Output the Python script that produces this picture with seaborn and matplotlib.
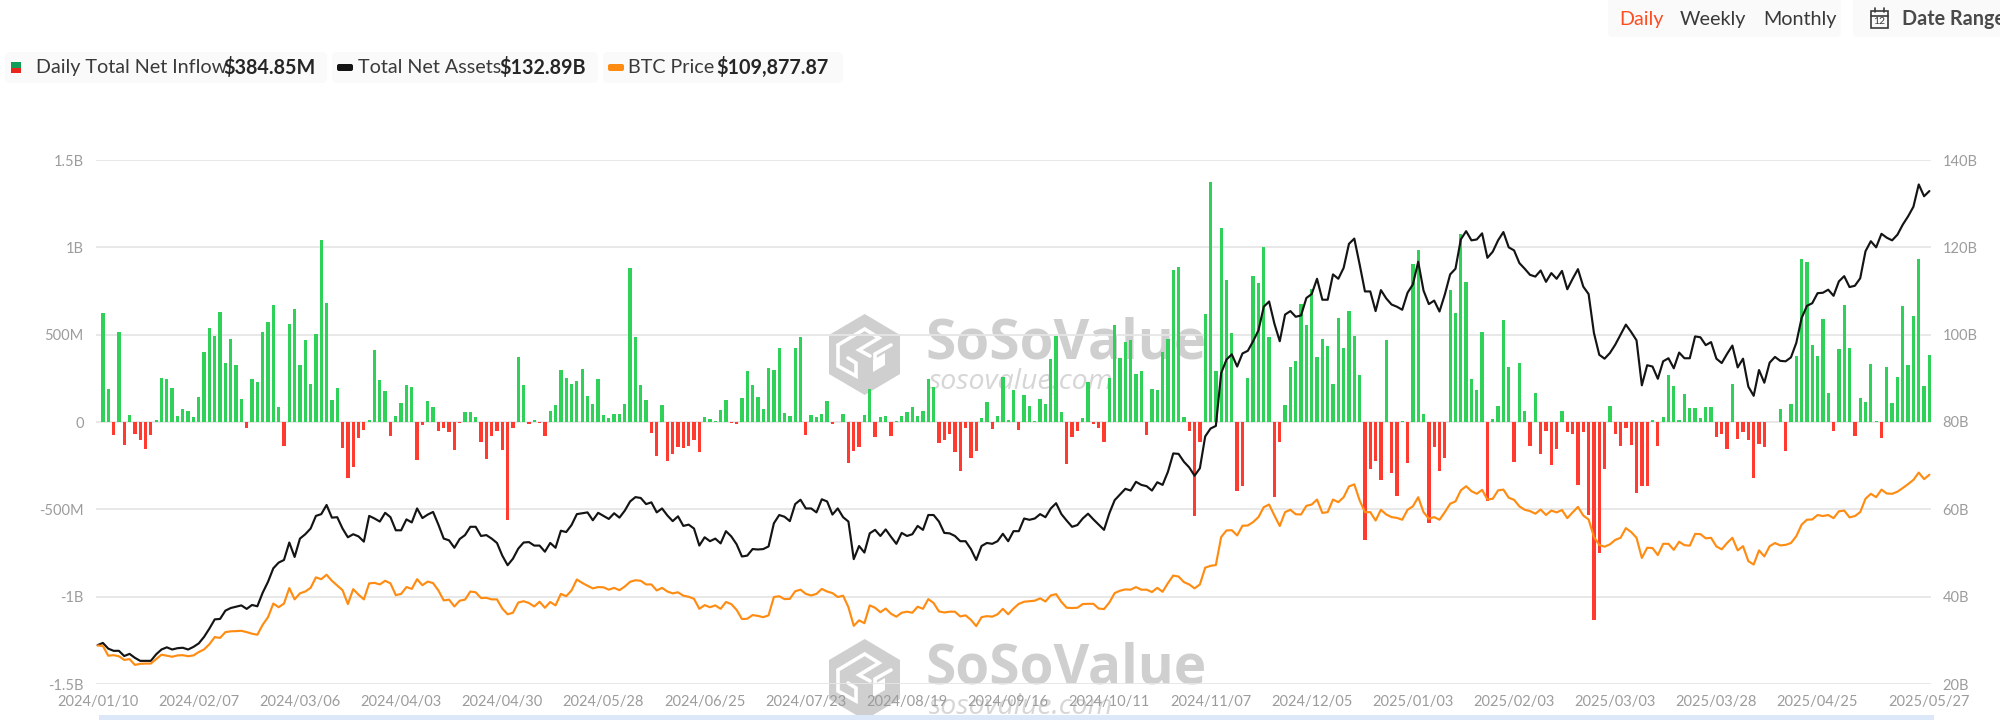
import numpy as np
import pandas as pd
import matplotlib
matplotlib.use("Agg")
import matplotlib.pyplot as plt
from matplotlib.patches import FancyBboxPatch, Polygon, Rectangle
import seaborn as sns

# Daily total net inflow, $M, from 2024/01/11 on
inflow_a = [625,187,-76,514,-130,38,-71,-101,-155,-75,13,252,245,195,36,76,65,31,143,401,539,491,629,337,474,329,132,-33,249,229,516,574,671,88,-136,560,646,329,470,220,503,1042,683]
inflow_b = [128,197,-151,-321,-256,-90,-48,13,415,239,180,-82,36,111,210,201,-220,-15,120,88,-52,-33,-55,-163,-3,57,59,29,-117,-214,-80,-50,-159,-560,-33,375,214,-11,10,-8,-80,63,98]
inflow_c = [300,254,218,237,302,151,105,249,40,25,46,46,101,883,486,214,128,-61,-197,98,-222,-185,-143,-149,-136,-101,-170,29,17,8,71,126,-4,-13,140,293,212,143,75,308,298,421,52]
inflow_d = [34,424,484,-75,40,27,48,120,-11,0,48,-233,-164,-145,42,189,-86,27,34,-78,8,34,57,84,36,61,249,199,-122,-103,-69,-172,-283,-34,-208,-166,25,113,-42,36,260,11,184]
inflow_e = [-48,155,90,6,132,101,363,493,57,-239,-86,-50,23,231,-11,-36,-117,250,553,369,457,468,272,293,-75,189,185,400,476,868,889,29,-52,-537,-113,619,1375,291,1113,815,507,-396,-365]
inflow_f = [252,834,793,1004,488,-432,-117,99,315,350,673,554,761,373,476,436,220,595,424,633,491,271,-675,-271,-222,-333,472,-293,-421,4,-237,906,985,48,-579,-143,-279,-205,753,623,1075,799,245]
inflow_g = [185,514,-453,17,90,585,315,-231,337,63,-136,166,-182,-54,-247,-153,63,-55,-67,-361,-59,-535,-1136,-751,-271,90,-71,-140,-34,-130,-405,-367,-367,11,-140,29,271,205,10,162,80,80,23,86,86]
inflow_h = [-88,-67,-153,218,-96,-59,-103,-321,-124,-145,-1,2,73,-164,103,379,933,914,438,377,589,168,-52,419,671,423,-80,138,115,331,6,-92,315,111,256,665,325,606,933,208,385]
inflow = inflow_a + inflow_b + inflow_c + inflow_d + inflow_e + inflow_f + inflow_g + inflow_h

# Total net assets, $B, from 2024/01/10 on
assets_a = [28.9,29.4,28.1,27.6,27.6,26.4,26.9,26.0,25.3,25.3,25.3,26.8,27.9,28.4,27.9,28.2,28.3,27.9,28.5,29.3,30.8,32.7,34.8,34.9,36.8,37.4,37.7,38.0,37.2,38.1,37.8,40.9,43.4,46.5,47.8,48.4,52.4,49.1,53.3,54.3,55.6,58.5,58.9,61.0]
assets_b = [58.1,58.2,55.6,53.6,54.3,53.8,52.6,58.5,57.9,57.2,59.2,58.2,55.2,55.2,57.7,57.0,60.2,58.0,58.8,59.4,56.5,53.3,52.9,51.2,53.2,54.1,56.0,56.0,53.9,54.1,53.3,52.3,49.4,47.2,48.7,51.0,52.4,52.5,51.7,51.7,50.3,52.3,51.2]
assets_c = [55.1,54.8,56.4,58.9,59.1,59.3,57.5,59.2,58.5,57.8,59.1,58.1,59.7,61.8,62.8,62.6,61.2,61.6,59.3,60.2,58.6,57.3,58.4,56.2,56.5,55.6,51.7,53.6,52.7,53.3,52.2,55.0,53.8,52.0,49.2,49.4,50.9,50.8,50.9,51.5,56.8,58.7,58.3]
assets_d = [57.3,61.2,62.2,60.2,60.2,59.3,62.3,61.8,58.8,60.2,58.2,57.2,48.6,51.6,50.1,54.5,55.3,53.9,55.4,53.7,52.1,54.6,53.9,54.3,56.2,55.3,58.7,58.7,57.2,54.6,54.5,53.9,52.7,52.7,50.9,48.4,51.6,52.3,52.1,52.7,54.4,52.7,55.0]
assets_e = [55.0,57.9,57.6,57.9,58.9,58.2,60.2,61.4,58.9,57.4,56.0,56.4,57.9,59.0,57.7,56.5,55.3,59.1,62.1,63.4,64.7,64.3,66.3,65.6,65.3,64.3,66.2,65.6,68.6,72.8,72.7,70.9,69.6,67.7,69.4,76.7,78.5,79.1,91.2,94.3,95.5,92.7,95.7,96.3]
assets_f = [98.5,101.0,106.4,107.6,102.5,98.5,104.6,105.4,104.1,104.4,108.4,109.3,112.8,108.0,108.0,113.8,112.8,115.3,120.8,122.0,116.1,109.9,109.9,105.4,110.2,108.3,106.9,106.4,105.7,109.6,111.5,116.7,110.1,107.0,107.8,105.3,109.2,113.8,115.1,121.8,123.7,121.6,121.8]
assets_g = [123.2,117.6,119.0,121.6,123.5,120.0,119.3,116.4,115.1,113.7,113.3,114.7,112.1,114.1,112.8,114.6,110.4,112.8,115.0,111.0,109.3,100.4,95.4,94.5,95.8,97.7,100.0,102.3,100.6,98.7,88.4,93.0,92.7,89.9,93.9,94.6,92.3,95.9,94.6,94.6,99.6,99.4,97.6]
assets_h = [98.3,94.5,93.5,95.6,97.5,92.5,94.5,88.1,86.0,91.9,89.0,93.6,94.9,94.0,93.9,94.8,98.1,103.8,106.6,107.2,109.5,109.6,110.3,108.9,112.2,113.4,110.9,111.2,112.9,119.1,121.4,120.0,123.1,122.2,121.6,122.9,125.2,127.1,129.3,134.4,131.7,132.89]
assets = assets_a + assets_b + assets_c + assets_d + assets_e + assets_f + assets_g + assets_h

# BTC price, $K, from 2024/01/10 on
btc_a = [44.7,44.5,40.8,41.0,40.6,39.2,39.5,37.3,37.7,37.8,37.8,39.5,41.2,40.8,40.4,40.9,41.0,40.6,40.9,42.2,43.2,45.2,47.9,47.6,49.8,50.1,50.2,50.3,49.8,49.2,48.8,52.6,55.5,60.7,59.3,60.7,66.6,62.3,64.6,65.3,66.7,70.7,70.0,71.7]
btc_b = [69.4,67.6,65.8,60.5,66.2,64.1,62.3,68.4,68.6,68.0,69.4,68.4,63.9,64.4,67.0,66.3,70.0,67.7,69.1,68.5,65.7,61.9,62.2,59.6,61.8,62.2,65.3,65.0,62.8,62.9,62.3,62.3,58.8,56.6,57.2,61.1,61.6,60.9,59.6,61.4,59.1,61.3,60.0]
btc_c = [64.4,63.5,65.7,69.9,68.6,67.5,66.5,67.0,66.9,66.0,66.7,65.8,67.2,69.0,69.6,69.4,68.0,68.0,65.7,66.7,65.3,64.6,65.0,63.7,63.3,62.5,58.7,60.1,59.3,60.0,58.7,61.3,60.5,58.3,54.8,54.9,56.3,56.0,55.5,56.2,63.2,63.5,62.4]
btc_d = [62.5,65.4,66.0,64.4,63.8,64.4,66.3,65.3,64.7,63.2,63.7,59.3,52.2,54.3,53.2,60.0,59.1,57.4,58.8,56.8,55.7,57.2,57.6,57.2,59.5,58.7,62.4,60.9,57.7,57.3,57.6,57.6,55.8,56.2,54.5,52.1,55.5,55.9,55.7,56.6,58.7,56.6,58.8]
btc_e = [60.6,61.4,61.6,61.8,62.7,61.5,63.8,64.3,61.3,59.1,59.0,59.1,60.5,60.6,60.6,58.8,58.6,61.1,64.7,65.6,66.1,66.0,67.0,66.0,66.0,65.1,66.7,65.2,68.5,71.4,71.0,68.9,68.0,66.5,68.0,74.4,75.1,75.4,86.1,88.6,88.7,86.7,90.4,90.5]
btc_f = [91.8,93.7,97.5,98.5,94.3,90.3,95.6,96.5,94.8,94.7,98.0,98.5,100.4,95.3,95.6,100.4,99.4,101.3,105.4,106.2,100.1,95.6,95.6,92.4,96.5,94.7,93.7,93.4,92.7,96.5,97.8,101.3,95.6,93.1,93.7,92.7,95.6,98.8,99.7,103.9,105.5,103.6,102.6]
btc_g = [104.1,100.4,100.7,103.9,104.2,101.1,100.3,97.8,96.5,96.0,95.0,96.6,94.5,96.2,95.5,96.4,93.3,95.5,97.6,94.3,92.8,86.1,83.1,82.4,83.3,85.0,85.8,89.5,88.0,85.8,78.1,82.0,81.9,79.2,83.5,83.5,81.2,84.3,83.0,82.8,87.3,87.2,85.6]
btc_h = [85.8,82.5,81.4,83.8,85.8,81.0,82.6,76.9,75.6,81.0,78.7,82.6,83.8,82.9,83.1,83.8,86.4,90.8,92.7,92.8,94.5,94.1,94.5,93.3,95.9,96.2,93.6,94.1,95.6,100.7,102.6,101.3,104.2,102.7,102.6,103.4,104.8,106.3,107.9,110.7,108.2,109.88]
btc = btc_a + btc_b + btc_c + btc_d + btc_e + btc_f + btc_g + btc_h

date_labels = ["2024/01/10","2024/02/07","2024/03/06","2024/04/03","2024/04/30","2024/05/28","2024/06/25","2024/07/23","2024/08/19","2024/09/16","2024/10/11","2024/11/07","2024/12/05","2025/01/03","2025/02/03","2025/03/03","2025/03/28","2025/04/25","2025/05/27"]
date_positions = [0,19,38,57,76,95,114,133,152,171,190,209,228,247,266,285,304,323,344]
left_ticks = [-1500,-1000,-500,0,500,1000,1500]
left_labels = ["-1.5B","-1B","-500M","0","500M","1B","1.5B"]
right_ticks = [20,40,60,80,100,120,140]
right_labels = ["20B","40B","60B","80B","100B","120B","140B"]

assert len(inflow) == 344 and len(assets) == 345 and len(btc) == 345

GREEN, RED, BLACK, ORANGE = "#2fd158", "#ff3b30", "#141414", "#ff8c12"
GRID, TICK, WM = "#e6e6e6", "#9c9c9c", "#cfcfcf"

sns.set_theme(style="white")
plt.rcParams["font.family"] = ["Lato", "DejaVu Sans"]

W, H = 2000, 720
fig = plt.figure(figsize=(W / 100, H / 100), dpi=100, facecolor="white")

# page layer, in figure pixels, under the plot
bg = fig.add_axes([0, 0, 1, 1], zorder=0)
bg.set_xlim(0, W)
bg.set_ylim(H, 0)
bg.axis("off")

def chip(x0, x1, y0, y1):
    bg.add_patch(FancyBboxPatch((x0 + 5, y0 + 5), x1 - x0 - 10, y1 - y0 - 10,
                                boxstyle="round,pad=5,rounding_size=5",
                                fc="#fafafa", ec="none"))

chip(5, 327, 52, 83)
chip(332, 598, 52, 83)
chip(603, 843, 52, 83)
chip(1608, 1841, -8, 37)
chip(1853, 2010, -8, 37)

LEG = 14.2
LC = "#3a3a3a"
def leg(x, s, weight="normal", color=LC, size=LEG, y=67.5):
    bg.text(x, y, s, fontsize=size, fontweight=weight, color=color, ha="left", va="center")

bg.add_patch(Rectangle((11, 62), 9.5, 5.5, fc="#0f9d58", ec="none"))
bg.add_patch(Rectangle((11, 67.5), 9.5, 5.5, fc="#e8261c", ec="none"))
leg(36, "Daily Total Net Inflow")
leg(223, "$384.85M", "bold", "#262626")
bg.add_patch(FancyBboxPatch((339, 66), 12, 3, boxstyle="round,pad=2,rounding_size=2", fc=BLACK, ec="none"))
leg(358, "Total Net Assets")
leg(499, "$132.89B", "bold", "#262626")
bg.add_patch(FancyBboxPatch((610, 66), 12, 3, boxstyle="round,pad=2,rounding_size=2", fc=ORANGE, ec="none"))
leg(628, "BTC Price")
leg(716, "$109,877.87", "bold", "#262626")

leg(1619, "Daily", color="#ff4d22", y=19)
leg(1680, "Weekly", y=19)
leg(1763, "Monthly", y=19)
leg(1902, "Date Range", "bold", "#4a4a4a", y=19)
bg.add_patch(Rectangle((1871, 11), 17, 17, fc="none", ec="#3a3a3a", lw=1.2))
bg.plot([1871, 1888], [15.5, 15.5], color="#3a3a3a", lw=1.2)
bg.plot([1875, 1875], [8, 12], color="#3a3a3a", lw=1.2)
bg.plot([1884, 1884], [8, 12], color="#3a3a3a", lw=1.2)
bg.text(1879.5, 22, "12", fontsize=7.5, color="#3a3a3a", ha="center", va="center")

# watermarks
def watermark(dy):
    hexa = [(864.7, 314), (900, 335), (900, 374), (864.7, 395), (829, 374), (829, 335)]
    bg.add_patch(Polygon([(x, y + dy) for x, y in hexa], closed=True, fc=WM, ec="none"))
    strokes = [
        [(838, 345), (864.7, 329), (879, 338), (859, 350), (870, 356)],
        [(891, 345), (875, 354), (875, 362)],
        [(838, 345), (838, 366), (856, 376), (856, 363), (848, 358)],
    ]
    for st in strokes:
        bg.plot([p[0] for p in st], [p[1] + dy for p in st], color="white", lw=2.6,
                solid_joinstyle="miter")
    bg.add_patch(Polygon([(873, 360 + dy), (885, 353 + dy), (885, 365 + dy), (873, 372 + dy)],
                         closed=True, fc="white", ec="none"))
    bg.text(925, 344 + dy, "SoSoValue", fontsize=39.5, fontweight="bold", color=WM,
            ha="left", va="center", family=["Open Sans", "DejaVu Sans"])
    bg.text(929, 382 + dy, "sosovalue.com", fontsize=20.5, style="italic", color="#d6d6d6",
            ha="left", va="center", family=["Open Sans", "DejaVu Sans"])

watermark(0)
watermark(325)

# data-zoom strip at the bottom edge
bg.add_patch(Rectangle((99, 715), 1835, 6, fc="#dce8fa", ec="none"))

# plot
L, R, T, B = 96, 1931, 160, 684
ax = fig.add_axes([L / W, 1 - B / H, (R - L) / W, (B - T) / H], zorder=1)
ax.patch.set_alpha(0)

flows = pd.DataFrame({
    "pos": np.arange(1, len(inflow) + 1),
    "flow": inflow,
    "sign": ["up" if v >= 0 else "down" for v in inflow],
})
sns.barplot(data=flows, x="pos", y="flow", hue="sign", native_scale=True, dodge=False,
            palette={"up": GREEN, "down": RED}, width=0.62, errorbar=None, legend=False,
            linewidth=0, saturation=1, ax=ax)

XMIN, XMAX = -0.3, 344.3
ax.set_xlim(XMIN, XMAX)
ax.set_ylim(-1500, 1500)
ax.set_yticks(left_ticks, left_labels)
ax.set_xticks(date_positions, date_labels)
ax.set_xlabel("")
ax.set_ylabel("")
ax.grid(axis="y", color=GRID, lw=1.3)
ax.grid(axis="x", visible=False)
ax.set_axisbelow(True)
ax.tick_params(axis="y", length=0, pad=9, labelsize=10.5, labelcolor=TICK)
ax.tick_params(axis="x", length=0, pad=8, labelsize=10.5, labelcolor=TICK)
sns.despine(ax=ax, left=True, bottom=True)

lines = pd.DataFrame({"pos": np.arange(len(assets)), "assets": assets, "btc": btc})

ax2 = ax.twinx()
ax2.set_zorder(2)
ax2.patch.set_alpha(0)
sns.lineplot(data=lines, x="pos", y="assets", color=BLACK, lw=1.55, ax=ax2, errorbar=None)
ax2.set_ylim(20, 140)
ax2.set_yticks(right_ticks, right_labels)
ax2.set_ylabel("")
ax2.tick_params(axis="y", length=0, pad=8.4, labelsize=10.5, labelcolor=TICK)
sns.despine(ax=ax2, left=True, bottom=True, right=True)

ax3 = ax.twinx()
ax3.set_zorder(3)
ax3.patch.set_alpha(0)
sns.lineplot(data=lines, x="pos", y="btc", color=ORANGE, lw=1.55, ax=ax3, errorbar=None)
ax3.set_ylim(30, 230)
ax3.set_ylabel("")
ax3.set_yticks([])
sns.despine(ax=ax3, left=True, bottom=True, right=True)

for a in (ax, ax2, ax3):
    a.set_xlim(XMIN, XMAX)

fig.savefig("out.png", dpi=100, facecolor="white")
